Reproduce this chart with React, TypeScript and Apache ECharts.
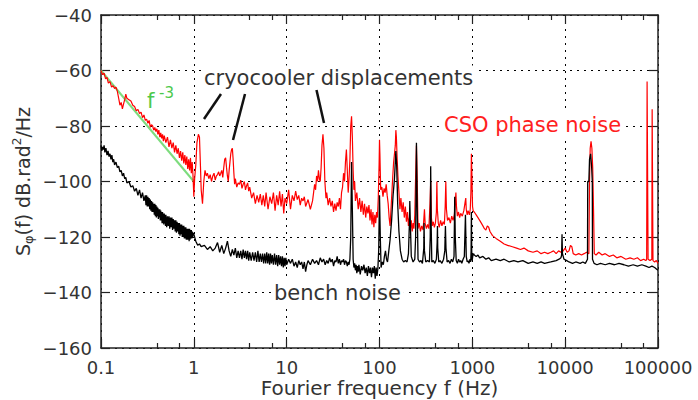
import React, { useEffect, useRef } from "react";
import * as echarts from "echarts";

// ---- data: [frequency (Hz), dB rad^2/Hz] ----
const fitLine: number[][] = [[0.1, -60], [1, -100]];

const csoLow: number[][] = [
  [0.1, -60], [0.104, -61.5], [0.108, -61], [0.112, -63], [0.116, -62.5], [0.12, -64.5], [0.125, -64], [0.13, -66],
  [0.135, -65.5], [0.14, -66.5], [0.145, -66], [0.15, -67.5], [0.155, -70], [0.16, -72.5], [0.165, -71.5], [0.17, -73.8],
  [0.175, -72], [0.18, -70.5], [0.185, -68.5], [0.19, -70], [0.2, -70.5], [0.21, -71], [0.22, -72.5], [0.23, -73],
  [0.24, -74.5], [0.25, -74], [0.26, -75.5], [0.27, -75], [0.28, -77], [0.29, -76], [0.3, -78], [0.31, -77.5],
  [0.32, -79], [0.33, -78], [0.34, -80.5], [0.35, -79.5], [0.36, -80], [0.37, -81.5], [0.38, -80.5], [0.39, -82],
  [0.4, -81], [0.41, -83], [0.42, -81.5], [0.43, -84], [0.44, -82.5], [0.45, -84.5], [0.46, -83], [0.47, -85.5],
  [0.48, -83.5], [0.5, -86], [0.52, -84], [0.54, -87.5], [0.56, -85], [0.58, -88], [0.6, -86], [0.62, -89.5],
  [0.64, -87], [0.66, -90], [0.68, -88], [0.7, -91.5], [0.72, -89], [0.74, -92.5], [0.76, -89.5], [0.78, -93.5],
  [0.8, -90.5], [0.82, -94], [0.84, -91], [0.86, -95.5], [0.88, -92], [0.9, -96], [0.92, -91.5], [0.94, -97],
  [0.96, -93], [0.98, -98], [1.0, -105.5],
];
const csoB: number[][] = [
  [1.02, -99], [1.05, -94], [1.08, -86], [1.12, -83], [1.15, -84], [1.18, -95], [1.2, -103], [1.24, -108],
  [1.28, -100], [1.32, -96], [1.36, -98], [1.4, -97], [1.45, -99], [1.5, -97.5], [1.55, -100], [1.6, -98],
  [1.65, -97], [1.7, -99.5], [1.75, -98], [1.8, -97.5], [1.85, -96.5], [1.9, -98], [1.95, -97], [2.0, -96],
  [2.05, -98.5], [2.1, -95], [2.15, -92], [2.2, -91.5], [2.25, -95], [2.3, -98], [2.35, -100], [2.4, -96],
  [2.45, -93], [2.5, -90], [2.55, -88.5], [2.6, -88], [2.65, -92], [2.7, -97], [2.75, -101], [2.8, -99],
  [2.9, -102], [3.0, -100.5], [3.1, -101], [3.2, -99.5], [3.3, -102.5], [3.4, -101], [3.5, -100], [3.6, -103],
  [3.7, -101.5], [3.8, -100.5], [3.9, -103.5], [4.0, -102], [4.2, -106], [4.4, -104], [4.6, -108], [4.8, -105],
  [5.0, -107.5], [5.2, -104.5], [5.4, -108.5], [5.6, -105], [5.8, -109], [6.0, -104], [6.3, -110], [6.6, -105.5],
  [6.9, -108], [7.2, -104], [7.5, -110.5], [7.8, -105], [8.1, -108.5], [8.4, -103.5], [8.7, -109], [9.0, -104.5],
  [9.3, -111.5], [9.6, -106], [10, -108],
];
const csoC: number[][] = [
  [10.5, -103], [11, -110], [11.5, -105], [12, -107], [12.5, -103.5], [13, -106.5], [13.5, -105], [14, -108.5],
  [14.5, -106], [15, -107], [15.5, -105.5], [16, -109], [17, -106.5], [18, -110], [19, -107], [19.5, -104],
  [20, -101], [20.5, -103], [21, -98], [21.5, -100], [22, -96], [22.5, -99], [23, -100], [23.5, -95],
  [24, -87], [24.6, -83], [25.2, -88], [25.8, -100], [26.5, -106], [27, -104], [28, -108.5], [29, -106],
  [30, -109], [31, -107], [32, -111], [33, -108], [34, -110.5], [35, -107.5], [36, -109], [37, -106],
  [38, -110], [39, -104], [40, -102], [41, -97], [42, -100], [43, -93], [44, -88.5], [45, -96],
  [46, -104], [47, -99], [48, -92], [49, -80], [50, -76.5], [51, -84], [52, -96], [53, -103],
  [54, -100], [55, -107], [57, -104], [59, -110], [61, -106], [63, -111], [65, -107], [67, -112],
  [69, -108], [71, -113], [73, -109], [75, -111.5], [77, -108.5], [79, -114], [81, -110], [83, -115.5],
  [85, -111], [87, -116.5], [89, -112], [91, -115], [93, -111], [95, -113], [97, -106], [99, -94],
  [100, -85], [101, -90], [103, -103],
];
const csoD: number[][] = [
  [106, -102], [109, -105.5], [112, -102.5], [115, -104], [118, -101], [121, -105], [124, -108], [127, -113],
  [130, -116], [133, -110], [136, -104], [139, -98], [142, -93], [145, -90], [148, -87], [150, -81.5],
  [152, -84], [155, -92], [158, -98], [162, -104], [166, -110], [170, -106], [175, -111], [180, -107.5],
  [185, -113], [190, -109], [195, -114.5], [200, -111], [205, -116], [210, -113], [215, -117.5], [220, -114],
  [225, -118], [230, -115], [235, -117], [240, -112], [245, -98], [250, -87], [255, -100], [260, -117],
  [268, -115], [276, -118], [285, -116], [295, -117.5], [305, -110], [310, -115], [320, -117], [330, -115.5],
  [340, -117], [350, -108], [356, -100], [362, -113], [370, -116], [380, -114.5], [390, -116.5], [400, -115],
  [410, -111], [415, -100], [420, -110], [430, -115], [440, -116.5], [455, -114], [470, -116], [485, -114.5],
  [500, -115.5], [510, -109], [518, -100], [526, -110], [540, -114], [560, -113], [580, -115], [600, -112.5],
  [620, -114], [640, -112], [655, -108], [665, -104], [675, -109], [690, -112.5], [710, -111], [730, -113],
  [750, -111.5], [780, -112.5], [810, -110.5], [840, -107], [850, -106], [860, -110], [880, -112], [900, -110.5],
  [930, -112], [950, -110], [965, -104], [977, -90], [990, -98], [1005, -109], [1020, -110.5],
];
const csoE: number[][] = [
  [1050, -111], [1100, -112], [1150, -113], [1200, -114], [1250, -115], [1300, -116], [1350, -117], [1400, -117.5],
  [1450, -116], [1500, -116.5], [1550, -118], [1650, -119.5], [1800, -120.5], [2000, -121.5], [2200, -122.5], [2400, -123],
  [2700, -123.5], [3000, -124], [3300, -124.5], [3600, -124], [4000, -125], [4500, -125.5], [5000, -125], [5500, -126],
  [6000, -125.5], [6500, -126], [7000, -125.5], [7500, -125], [8000, -126], [8500, -125], [9000, -125.5], [9500, -125],
  [10000, -124], [10500, -125.5], [11000, -125], [11400, -123], [11800, -123.5], [12200, -126], [13000, -126.5], [14000, -126],
  [15000, -126.5], [16000, -126], [17000, -125.5], [18000, -126], [18300, -100], [18600, -88], [19000, -85.5], [19400, -88],
  [19800, -95], [20200, -110], [20600, -126], [21500, -126.5], [23000, -125.5], [25000, -126.5], [27000, -126], [30000, -127],
  [33000, -126.5], [36000, -127.5], [40000, -127], [45000, -128], [50000, -127.5], [55000, -128], [60000, -127.5], [65000, -128.5],
  [70000, -128], [74000, -128.5], [75500, -128], [76300, -64], [77200, -64], [78200, -128], [82000, -128.5], [85800, -128],
  [86500, -74], [87300, -74], [88300, -128.5], [92000, -129], [96000, -128.5], [100000, -129.5],
];

const benchA: number[][] = [
  [0.1, -87], [0.102, -89], [0.104, -87.5], [0.106, -88.5], [0.108, -87], [0.11, -89.5], [0.113, -88], [0.116, -90.5],
  [0.119, -89], [0.122, -91], [0.125, -90], [0.128, -92], [0.131, -90.5], [0.134, -93], [0.137, -92], [0.14, -94],
  [0.145, -93], [0.15, -95], [0.155, -94.5], [0.16, -96.5], [0.165, -96], [0.17, -98], [0.175, -97], [0.18, -99],
  [0.185, -98.5], [0.19, -100.5], [0.2, -100], [0.21, -102], [0.22, -101.5], [0.23, -103.5], [0.24, -102.5], [0.25, -105],
  [0.26, -103], [0.27, -106], [0.28, -104], [0.29, -107], [0.3, -105], [0.305, -108.5], [0.31, -105], [0.315, -109],
  [0.32, -105.5], [0.325, -109], [0.33, -106], [0.335, -110], [0.34, -106.5], [0.345, -110.5], [0.35, -107], [0.355, -111],
  [0.36, -107.5], [0.365, -111], [0.37, -108], [0.375, -112], [0.38, -108], [0.385, -112.5], [0.39, -108.5], [0.395, -113],
  [0.4, -109], [0.405, -112.5], [0.41, -109.5], [0.415, -113.5], [0.42, -110], [0.425, -113], [0.43, -110], [0.435, -114],
  [0.44, -110.5], [0.445, -114], [0.45, -111], [0.455, -115], [0.46, -111], [0.465, -115], [0.47, -111.5], [0.475, -115.5],
  [0.48, -111.5], [0.485, -115], [0.49, -112], [0.495, -116], [0.5, -112], [0.51, -116.5], [0.52, -112.5], [0.53, -116],
  [0.54, -112.5], [0.55, -117], [0.56, -113], [0.57, -116.5], [0.58, -113], [0.59, -117.5], [0.6, -113.5], [0.61, -117],
  [0.62, -114], [0.63, -118], [0.64, -114], [0.65, -118.5], [0.66, -114.5], [0.67, -118], [0.68, -115], [0.69, -119],
  [0.7, -115], [0.71, -119.5], [0.72, -115.5], [0.73, -119], [0.74, -115.5], [0.75, -120], [0.76, -116], [0.77, -120],
  [0.78, -116], [0.79, -120.5], [0.8, -116.5], [0.81, -120.5], [0.82, -116.5], [0.83, -121], [0.84, -117], [0.85, -121],
  [0.86, -117], [0.87, -121], [0.88, -117], [0.89, -121.5], [0.9, -117], [0.91, -121], [0.92, -117.5], [0.93, -120.5],
  [0.94, -117.5], [0.95, -120.5], [0.96, -118], [0.97, -120], [0.98, -118.5], [1.0, -119],
];
const benchB: number[][] = [
  [1.05, -121.5], [1.1, -123], [1.15, -122.5], [1.2, -123.5], [1.3, -123], [1.4, -124.5], [1.5, -123.5], [1.6, -125],
  [1.7, -124], [1.8, -122], [1.9, -125.5], [2.0, -123], [2.1, -126], [2.2, -124], [2.3, -121.5], [2.4, -125],
  [2.5, -127], [2.6, -124.5], [2.7, -126.5], [2.8, -124], [2.9, -127.5], [3.0, -125], [3.1, -127.5], [3.2, -125],
  [3.3, -128], [3.4, -124.5], [3.5, -127.5], [3.6, -125], [3.7, -128], [3.8, -125], [3.9, -128.5], [4.0, -125.5],
  [4.15, -128.5], [4.3, -125.5], [4.45, -128.5], [4.6, -125.5], [4.75, -129], [4.9, -125], [5.05, -129], [5.2, -126],
  [5.35, -129], [5.5, -126], [5.65, -129.5], [5.8, -126], [5.95, -129.5], [6.1, -125.5], [6.25, -129.5], [6.4, -126],
  [6.55, -130], [6.7, -126], [6.85, -129.5], [7.0, -126.5], [7.2, -130], [7.4, -126], [7.6, -130], [7.8, -126.5],
  [8.0, -130.5], [8.2, -126.5], [8.4, -130], [8.6, -127], [8.8, -130.5], [9.0, -127], [9.2, -131], [9.4, -127.5],
  [9.6, -130.5], [9.8, -127.5], [10, -130],
];
const benchC: number[][] = [
  [10.5, -128], [11, -129.5], [11.5, -128], [12, -130.5], [12.5, -129], [13, -131], [13.5, -128.5], [14, -130],
  [14.5, -129], [15, -131.5], [15.5, -129], [16, -132.5], [16.5, -130], [17, -128.5], [18, -130], [19, -128],
  [20, -129.5], [21, -128.5], [22, -130], [23, -127.5], [24, -129], [25, -128], [26, -130], [27, -128.5],
  [28, -129.5], [29, -127.5], [30, -129], [31, -128], [32, -130.5], [33, -128.5], [34, -129], [35, -127],
  [36, -129.5], [37, -128], [38, -130], [39, -128.5], [40, -129], [41, -128], [42, -130], [43, -128.5],
  [44, -129], [45, -130.5], [46, -129], [47, -130], [48, -128], [49, -120], [50, -93], [51, -110],
  [52, -128], [53, -131], [54, -129.5], [55, -132], [56, -130], [57, -133], [58, -130.5], [59, -132.5],
  [60, -130], [62, -133.5], [64, -130.5], [66, -132], [68, -130], [70, -133], [72, -131], [74, -134],
  [76, -130.5], [78, -133], [80, -131], [82, -134.5], [84, -131], [86, -133], [88, -130.5], [90, -135],
  [92, -131], [94, -134], [96, -131.5], [98, -125], [100, -105], [102, -120], [104, -131],
];
const benchD: number[][] = [
  [107, -129], [110, -130], [113, -127], [116, -125], [119, -128], [122, -129], [125, -126], [130, -121],
  [135, -114], [140, -105], [145, -99], [150, -89], [153, -94], [157, -108], [162, -118], [168, -125],
  [175, -128], [182, -129], [190, -128.5], [198, -129], [205, -126], [210, -115], [212, -107], [215, -115],
  [220, -127], [230, -129], [240, -128], [245, -120], [250, -86], [255, -110], [260, -128], [270, -129],
  [280, -128.5], [290, -129.5], [300, -124], [302, -115], [305, -125], [315, -129], [330, -128.5], [345, -129],
  [352, -120], [356, -94.5], [360, -115], [366, -129], [380, -128.5], [395, -129.5], [410, -128], [418, -122],
  [421, -116], [424, -124], [435, -129], [450, -128.5], [470, -129.5], [490, -128], [505, -125], [513, -116],
  [520, -124], [535, -129], [555, -128.5], [575, -129.5], [595, -128], [615, -129], [635, -127], [646, -105.5],
  [655, -120], [670, -128.5], [690, -129.5], [710, -128], [730, -129], [750, -128.5], [770, -129.5], [795, -128],
  [820, -127], [843, -112], [860, -127], [880, -129], [900, -128.5], [920, -129.5], [945, -128], [960, -129],
  [970, -125], [977, -111], [985, -125], [995, -128.5], [1010, -127], [1030, -126],
];
const benchE: number[][] = [
  [1050, -126.5], [1100, -127], [1150, -126.5], [1200, -127.5], [1300, -127], [1400, -128], [1500, -127.5], [1600, -128.5],
  [1800, -128], [2000, -128.5], [2200, -128], [2500, -129], [2800, -128.5], [3100, -129], [3500, -128.5], [4000, -129.5],
  [4500, -129], [5000, -129.5], [5500, -129], [6000, -129.5], [7000, -129], [8000, -128.5], [8600, -128], [9000, -127.5],
  [9150, -126.5], [9250, -119], [9350, -126], [9700, -128], [10400, -128.5], [11000, -129], [12000, -129.5], [13000, -129],
  [14500, -129.5], [15500, -129], [16500, -129.5], [17400, -128], [17500, -100], [18000, -100], [18300, -92], [18800, -90],
  [19300, -95], [19600, -100], [19700, -128], [20500, -129.5], [22000, -130], [24000, -129.5], [27000, -130], [30000, -129.5],
  [34000, -130], [38000, -129.5], [43000, -130], [48000, -130.5], [54000, -130], [60000, -130.5], [67000, -130], [74000, -130.5],
  [80000, -131], [86000, -130.5], [92000, -131], [96000, -131.5], [100000, -132],
];

const csoData = [...csoLow, ...csoB, ...csoC, ...csoD, ...csoE];
const benchData = [...benchA, ...benchB, ...benchC, ...benchD, ...benchE];

const xRange = [0.1, 100000];
const yRange = [-160, -40];
const yStep = 20;

const FONT = "DejaVu Sans";
const TXT = "#333";

export default function App() {
  const ref = useRef<HTMLDivElement>(null);
  useEffect(() => {
    if (!ref.current) return;
    document.body.style.margin = "0";
    const chart = echarts.init(ref.current, undefined, { renderer: "svg" });
    const dotted = { color: "#000", type: [2, 5] as any, width: 1 };
    const frameLine = { show: true, lineStyle: { color: "#222", width: 1.5 } };
    const xCommon: any = {
      type: "log",
      logBase: 10,
      min: xRange[0],
      max: xRange[1],
      splitNumber: 6,
      axisLine: frameLine,
      axisTick: { show: true, inside: true, length: 9, lineStyle: { color: "#222", width: 1.2 } },
      minorTick: { show: true, splitNumber: 3, length: 5, lineStyle: { color: "#222", width: 1.2 } },
    };
    const yCommon: any = {
      type: "value",
      min: yRange[0],
      max: yRange[1],
      interval: yStep,
      axisLine: frameLine,
      axisTick: { show: true, inside: true, length: 9, lineStyle: { color: "#222", width: 1.2 } },
    };
    chart.setOption({
      animation: false,
      grid: { left: 101, right: 40, top: 15, bottom: 52, containLabel: false, outerBoundsMode: "none" },
      xAxis: [
        {
          ...xCommon,
          position: "bottom",
          axisLabel: {
            fontFamily: FONT,
            fontSize: 18,
            lineHeight: 18,
            color: TXT,
            margin: 10,
            formatter: (v: number) => String(Number(v.toPrecision(6))),
          },
          splitLine: { show: true, lineStyle: dotted },
          name: "Fourier frequency f (Hz)",
          nameLocation: "middle",
          nameGap: 30,
          nameMoveOverlap: false,
          nameTextStyle: { fontFamily: FONT, fontSize: 20, lineHeight: 20, color: TXT },
        },
        { ...xCommon, position: "top", axisLabel: { show: false }, splitLine: { show: false } },
      ],
      yAxis: [
        {
          ...yCommon,
          position: "left",
          axisLabel: {
            fontFamily: FONT,
            fontSize: 18,
            color: TXT,
            margin: 9,
            formatter: (v: number) => (v < 0 ? "\u2212" + Math.abs(v) : String(v)),
          },
          splitLine: { show: true, lineStyle: dotted },
          name: "{n|S}{sub|\u03c6}{n|(f) dB.rad}{sup|2}{n|/Hz}",
          nameLocation: "middle",
          nameRotate: 90,
          nameGap: 66,
          nameMoveOverlap: false,
          nameTextStyle: {
            fontFamily: FONT,
            color: TXT,
            rich: {
              n: { fontFamily: FONT, fontSize: 19, color: TXT, verticalAlign: "middle" },
              sub: { fontFamily: FONT, fontSize: 13, color: TXT, verticalAlign: "middle", padding: [12, 0, 0, 0] },
              sup: { fontFamily: FONT, fontSize: 12, color: TXT, verticalAlign: "middle", padding: [0, 0, 12, 0] },
            },
          },
        },
        { ...yCommon, position: "right", axisLabel: { show: false }, splitLine: { show: false } },
      ],
      series: [
        {
          type: "line",
          data: fitLine,
          showSymbol: false,
          symbol: "none",
          lineStyle: { color: "#7ddc7d", width: 2 },
          z: 2,
        },
        {
          type: "line",
          data: csoData,
          showSymbol: false,
          symbol: "none",
          lineStyle: { color: "#ff0000", width: 1.2 },
          z: 3,
        },
        {
          type: "line",
          data: benchData,
          showSymbol: false,
          symbol: "none",
          lineStyle: { color: "#000", width: 1.3 },
          z: 4,
        },
      ],
      graphic: [
        {
          type: "text", x: 201, y: 78, z: 100,
          style: { text: "cryocooler displacements", fontFamily: FONT, fontSize: 21, fill: TXT, verticalAlign: "middle", backgroundColor: "#fff", padding: [2, 3] },
        },
        {
          type: "text", x: 441, y: 125, z: 100,
          style: { text: "CSO phase noise", fontFamily: FONT, fontSize: 21, fill: "#ff2020", verticalAlign: "middle", backgroundColor: "#fff", padding: [2, 3] },
        },
        {
          type: "text", x: 271, y: 293, z: 100,
          style: { text: "bench noise", fontFamily: FONT, fontSize: 21, fill: TXT, verticalAlign: "middle", backgroundColor: "#fff", padding: [2, 3] },
        },
        {
          type: "text", x: 147, y: 100.7, z: 100,
          style: { text: "f", fontFamily: FONT, fontSize: 21, fill: "#4cc94c", verticalAlign: "middle" },
        },
        {
          type: "text", x: 159, y: 92.8, z: 100,
          style: { text: "-3", fontFamily: FONT, fontSize: 15, fill: "#4cc94c", verticalAlign: "middle" },
        },
        { type: "line", z: 100, shape: { x1: 221, y1: 94, x2: 204, y2: 119 }, style: { stroke: "#111", lineWidth: 2.5 } },
        { type: "line", z: 100, shape: { x1: 245, y1: 94, x2: 233, y2: 140 }, style: { stroke: "#111", lineWidth: 2.5 } },
        { type: "line", z: 100, shape: { x1: 316.5, y1: 90, x2: 324, y2: 123 }, style: { stroke: "#111", lineWidth: 2.5 } },
      ],
    });
    return () => chart.dispose();
  }, []);
  return <div ref={ref} style={{ width: 698, height: 400 }} />;
}
